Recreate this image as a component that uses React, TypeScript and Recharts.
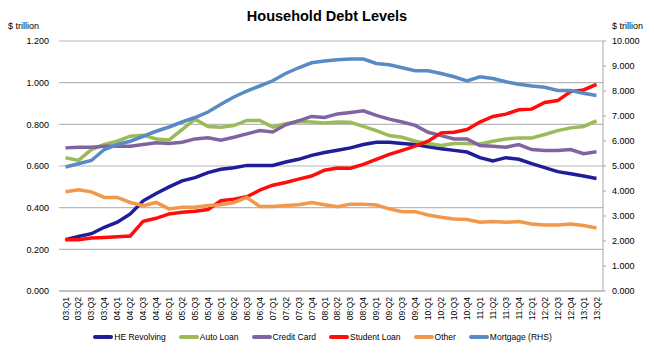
import { LineChart, Line, XAxis, YAxis, CartesianGrid } from 'recharts';

const quarters = [
  '03:Q1', '03:Q2', '03:Q3', '03:Q4', '04:Q1', '04:Q2', '04:Q3', '04:Q4',
  '05:Q1', '05:Q2', '05:Q3', '05:Q4', '06:Q1', '06:Q2', '06:Q3', '06:Q4',
  '07:Q1', '07:Q2', '07:Q3', '07:Q4', '08:Q1', '08:Q2', '08:Q3', '08:Q4',
  '09:Q1', '09:Q2', '09:Q3', '09:Q4', '10:Q1', '10:Q2', '10:Q3', '10:Q4',
  '11:Q1', '11:Q2', '11:Q3', '11:Q4', '12:Q1', '12:Q2', '12:Q3', '12:Q4',
  '13:Q1', '13:Q2',
];

const heRevolving = [
  0.246, 0.262, 0.275, 0.306, 0.330, 0.370, 0.433, 0.468, 0.500, 0.529, 0.544,
  0.568, 0.584, 0.592, 0.603, 0.603, 0.603, 0.619, 0.632, 0.651, 0.665, 0.676,
  0.687, 0.703, 0.714, 0.714, 0.708, 0.703, 0.692, 0.683, 0.675, 0.667, 0.640,
  0.624, 0.640, 0.632, 0.611, 0.592, 0.573, 0.563, 0.552, 0.540,
];

const autoLoan = [
  0.640, 0.627, 0.679, 0.703, 0.719, 0.743, 0.748, 0.730, 0.725, 0.775, 0.825,
  0.790, 0.786, 0.794, 0.819, 0.819, 0.787, 0.803, 0.814, 0.811, 0.806, 0.811,
  0.810, 0.790, 0.770, 0.746, 0.738, 0.719, 0.708, 0.698, 0.708, 0.708, 0.706,
  0.719, 0.730, 0.735, 0.735, 0.751, 0.770, 0.783, 0.790, 0.817,
];

const creditCard = [
  0.687, 0.690, 0.690, 0.695, 0.695, 0.695, 0.703, 0.711, 0.708, 0.714, 0.730,
  0.735, 0.724, 0.738, 0.754, 0.770, 0.763, 0.798, 0.817, 0.838, 0.833, 0.850,
  0.857, 0.865, 0.843, 0.825, 0.811, 0.795, 0.762, 0.746, 0.730, 0.730, 0.698,
  0.695, 0.690, 0.703, 0.679, 0.675, 0.675, 0.679, 0.659, 0.668,
];

const studentLoan = [
  0.246, 0.246, 0.254, 0.257, 0.260, 0.264, 0.335, 0.349, 0.370, 0.378, 0.383,
  0.391, 0.433, 0.441, 0.452, 0.484, 0.508, 0.521, 0.537, 0.552, 0.580, 0.590,
  0.589, 0.608, 0.632, 0.656, 0.675, 0.695, 0.719, 0.759, 0.762, 0.775, 0.811,
  0.838, 0.849, 0.870, 0.873, 0.905, 0.914, 0.957, 0.965, 0.992,
];

const other = [
  0.476, 0.486, 0.476, 0.449, 0.449, 0.425, 0.410, 0.425, 0.394, 0.402, 0.402,
  0.410, 0.414, 0.425, 0.449, 0.406, 0.406, 0.410, 0.414, 0.425, 0.414, 0.405,
  0.417, 0.417, 0.413, 0.394, 0.381, 0.381, 0.365, 0.354, 0.346, 0.343, 0.330,
  0.333, 0.330, 0.333, 0.322, 0.317, 0.317, 0.322, 0.314, 0.302,
];

// right hand axis
const mortgage = [
  4.96, 5.09, 5.22, 5.66, 5.86, 5.99, 6.19, 6.39, 6.56, 6.76, 6.94,
  7.16, 7.47, 7.76, 8.00, 8.20, 8.41, 8.70, 8.93, 9.13, 9.20, 9.25,
  9.28, 9.28, 9.10, 9.05, 8.93, 8.81, 8.81, 8.70, 8.57, 8.40, 8.57,
  8.50, 8.37, 8.27, 8.20, 8.15, 8.02, 8.02, 7.91, 7.82,
];

const leftTicks = [0, 0.2, 0.4, 0.6, 0.8, 1.0, 1.2];
const rightTicks = [0, 1, 2, 3, 4, 5, 6, 7, 8, 9, 10];

const series = [
  { key: 'he', name: 'HE Revolving', color: '#1F1D9A', axis: 'left' },
  { key: 'auto', name: 'Auto Loan', color: '#9BBB59', axis: 'left' },
  { key: 'cc', name: 'Credit Card', color: '#8064A2', axis: 'left' },
  { key: 'student', name: 'Student Loan', color: '#FF0D0D', axis: 'left' },
  { key: 'other', name: 'Other', color: '#F0984C', axis: 'left' },
  { key: 'mortgage', name: 'Mortgage (RHS)', color: '#588BC6', axis: 'right' },
];

const data = quarters.map((q, i) => ({
  q,
  he: heRevolving[i],
  auto: autoLoan[i],
  cc: creditCard[i],
  student: studentLoan[i],
  other: other[i],
  mortgage: mortgage[i],
}));

const font = '"Liberation Sans", Arial, sans-serif';

const QuarterTick = ({ x, y, payload }: any) => (
  <g transform={`translate(${x},${y})`}>
    <text
      transform="rotate(-90)"
      x={-6}
      y={3}
      textAnchor="end"
      fontSize={8.5}
      fontFamily={font}
      fill="#000"
    >
      {payload.value}
    </text>
  </g>
);

const LegendRow = () => (
  <div
    style={{
      display: 'flex',
      justifyContent: 'center',
      alignItems: 'center',
      height: 30,
      fontFamily: font,
      fontSize: 8.5,
      color: '#000',
      paddingLeft: 4,
    }}
  >
    {series.map((s) => (
      <div key={s.key} style={{ display: 'flex', alignItems: 'center', marginRight: 13 }}>
        <span
          style={{ display: 'inline-block', width: 20, height: 4, background: s.color, borderRadius: 2, marginRight: 1 }}
        />
        <span>{s.name}</span>
      </div>
    ))}
  </div>
);

export default function App() {
  return (
    <div style={{ position: 'absolute', left: 0, top: 0, width: 654, height: 354, background: '#fff' }}>
      <div
        style={{
          position: 'absolute',
          top: 8,
          width: 654,
          textAlign: 'center',
          fontFamily: font,
          fontWeight: 'bold',
          fontSize: 14.5,
        }}
      >
        Household Debt Levels
      </div>
      <div style={{ position: 'absolute', left: 8, top: 21, fontFamily: font, fontSize: 9 }}>$ trillion</div>
      <div style={{ position: 'absolute', left: 612, top: 21, fontFamily: font, fontSize: 9 }}>$ trillion</div>
      <div style={{ position: 'absolute', left: 0, top: 0 }}>
        <LineChart width={654} height={324} data={data} margin={{ top: 41, right: 0, left: 7, bottom: 0 }}>
          <CartesianGrid yAxisId="left" vertical={false} stroke="#B8B8B8" strokeWidth={1.2} />
          <XAxis
            dataKey="q"
            interval={0}
            tick={<QuarterTick />}
            tickLine={false}
            tickSize={0}
            tickMargin={0}
            height={33}
            padding={{ left: 6.5, right: 6.5 }}
            axisLine={{ stroke: '#A6A6A6' }}
          />
          <YAxis
            yAxisId="left"
            width={52}
            domain={[0, 1.2]}
            ticks={leftTicks}
            tickFormatter={(v: number) => v.toFixed(3)}
            tick={{ fontSize: 9, fill: '#000', fontFamily: font }}
            axisLine={false}
            tickLine={false}
            tickMargin={4}
          />
          <YAxis
            yAxisId="right"
            orientation="right"
            width={51}
            domain={[0, 10]}
            ticks={rightTicks}
            tickFormatter={(v: number) => v.toFixed(3)}
            tick={{ fontSize: 9, fill: '#000', fontFamily: font, textAnchor: 'start' }}
            axisLine={{ stroke: '#A6A6A6' }}
            tickLine={{ stroke: '#A6A6A6' }}
            tickSize={3}
            tickMargin={6}
          />
          {series.map((s) => (
            <Line
              key={s.key}
              yAxisId={s.axis}
              type="linear"
              dataKey={s.key}
              name={s.name}
              stroke={s.color}
              strokeWidth={3.5}
              dot={false}
              isAnimationActive={false}
            />
          ))}
        </LineChart>
      </div>
      <div style={{ position: 'absolute', left: 0, top: 322, width: 654 }}>
        <LegendRow />
      </div>
    </div>
  );
}
